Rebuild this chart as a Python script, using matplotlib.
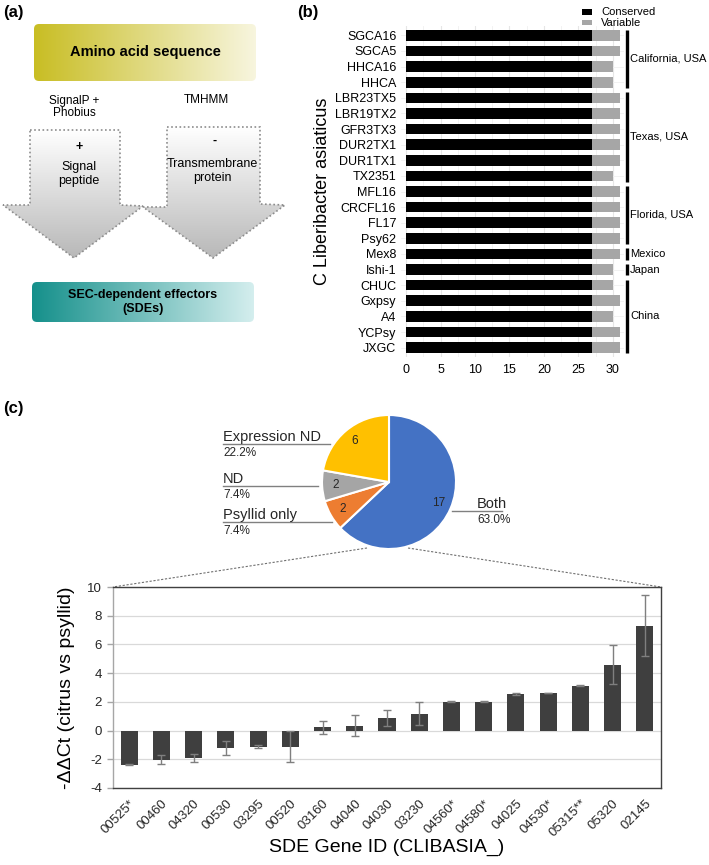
import numpy as np
import matplotlib
matplotlib.use("Agg")
import matplotlib.pyplot as plt
from matplotlib.patches import FancyBboxPatch, Polygon, Rectangle

plt.rcParams['font.family'] = ['Liberation Sans', 'DejaVu Sans']
plt.rcParams['axes.unicode_minus'] = False

W, H = 709, 865

# ---- panel (b) data ----
strains = ["SGCA16", "SGCA5", "HHCA16", "HHCA", "LBR23TX5", "LBR19TX2", "GFR3TX3",
           "DUR2TX1", "DUR1TX1", "TX2351", "MFL16", "CRCFL16", "FL17", "Psy62",
           "Mex8", "Ishi-1", "CHUC", "Gxpsy", "A4", "YCPsy", "JXGC"]
conserved = [27, 27, 27, 27, 27, 27, 27, 27, 27, 27, 27, 27, 27, 27, 27, 27, 27, 27, 27, 27, 27]
variable = [4, 4, 3, 3, 4, 4, 4, 4, 4, 3, 4, 4, 4, 4, 4, 3, 3, 4, 3, 4, 4]
regions = ["California, USA", "Texas, USA", "Florida, USA", "Mexico", "Japan", "China"]
region_first = [0, 4, 10, 14, 15, 16]
region_last = [3, 9, 13, 14, 15, 20]

# ---- panel (c) pie data ----
pie_labels = ["Both", "Psyllid only", "ND", "Expression ND"]
pie_counts = [17, 2, 2, 6]
pie_colors = ["#4472c4", "#ed7d31", "#a5a5a5", "#ffc000"]

# ---- panel (c) bar data ----
genes = ["00525*", "00460", "04320", "00530", "03295", "00520", "03160", "04040",
         "04030", "03230", "04560*", "04580*", "04025", "04530*", "05315**", "05320", "02145"]
ddct = [-2.37, -2.02, -1.90, -1.23, -1.11, -1.11, 0.23, 0.35, 0.86, 1.18,
        2.00, 2.02, 2.55, 2.62, 3.13, 4.59, 7.31]
ddct_err = [0.05, 0.30, 0.28, 0.50, 0.08, 1.07, 0.47, 0.75, 0.54, 0.82,
            0.03, 0.03, 0.05, 0.03, 0.02, 1.37, 2.13]

fig = plt.figure(figsize=(W / 100, H / 100), dpi=100)


def box(l, t, r, b):
    return fig.add_axes([l / W, 1 - b / H, (r - l) / W, (b - t) / H])


# overlay in pixel coordinates for the schematic and annotations
ov = box(0, 0, W, H)
ov.set_xlim(0, W)
ov.set_ylim(H, 0)
ov.axis('off')


def grad_box(l, t, r, b, c0, c1, horiz=True, clip=None):
    c0 = np.array(matplotlib.colors.to_rgb(c0))
    c1 = np.array(matplotlib.colors.to_rgb(c1))
    s = np.linspace(0, 1, 256)
    if horiz:
        img = (c0[None, None, :] * (1 - s)[None, :, None] + c1[None, None, :] * s[None, :, None])
    else:
        img = (c0[None, None, :] * (1 - s)[:, None, None] + c1[None, None, :] * s[:, None, None])
    im = ov.imshow(img, extent=(l, r, b, t), origin='upper', aspect='auto', zorder=1)
    if clip is not None:
        im.set_clip_path(clip)
    return im


# ---- panel (a) ----
top = FancyBboxPatch((34, 24), 222, 57, boxstyle="round,pad=0,rounding_size=5",
                     facecolor='none', edgecolor='none', transform=ov.transData)
ov.add_patch(top)
grad_box(32, 22, 258, 83, "#c8bd22", "#f8f6e0", clip=top)
ov.text(145, 52, "Amino acid sequence", ha='center', va='center', fontsize=10.5, fontweight='bold')

bot = FancyBboxPatch((32, 282), 222, 40, boxstyle="round,pad=0,rounding_size=5",
                     facecolor='none', edgecolor='none', transform=ov.transData)
ov.add_patch(bot)
grad_box(30, 280, 256, 324, "#138f8a", "#d6efef", clip=bot)
ov.text(143, 302, "SEC-dependent effectors\n(SDEs)", ha='center', va='center', fontsize=9,
        fontweight='bold', linespacing=1.15)

left_arrow = [(30, 130), (120, 130), (120, 205), (143, 206), (74, 258), (3, 205), (30, 205)]
right_arrow = [(167, 127), (260, 127), (260, 204), (285, 205), (213, 258), (143, 207), (167, 207)]
for pts in (left_arrow, right_arrow):
    poly = Polygon(pts, closed=True, facecolor='none', edgecolor='#8c8c8c', linestyle=(0, (1, 1.5)),
                   linewidth=1.2, transform=ov.transData, zorder=3)
    ov.add_patch(poly)
    ys = [p[1] for p in pts]
    xs = [p[0] for p in pts]
    grad_box(min(xs), min(ys), max(xs), max(ys), "#ffffff", "#b8b8b8", horiz=False, clip=poly)

ov.text(74, 107, "SignalP +\nPhobius", ha='center', va='center', fontsize=8.5, linespacing=1.1)
ov.text(206, 100, "TMHMM", ha='center', va='center', fontsize=8.5)
ov.text(79, 147, "+", ha='center', va='center', fontsize=9, fontweight='bold')
ov.text(79, 174, "Signal\npeptide", ha='center', va='center', fontsize=9, linespacing=1.15)
ov.text(215, 141, "-", ha='center', va='center', fontsize=9, fontweight='bold')
ov.text(212, 171, "Transmembrane\nprotein", ha='center', va='center', fontsize=9, linespacing=1.15)

ov.text(3, 12, "(a)", ha='left', va='center', fontsize=12, fontweight='bold')
ov.text(297, 12, "(b)", ha='left', va='center', fontsize=12, fontweight='bold')
ov.text(3, 408, "(c)", ha='left', va='center', fontsize=12, fontweight='bold')

# ---- panel (b) ----
axb = box(400.5, 26, 624, 357)
y = np.arange(len(strains))
axb.barh(y, conserved, height=0.68, color='black', zorder=2)
axb.barh(y, variable, left=conserved, height=0.68, color='#a6a6a6', zorder=2)
axb.set_ylim(len(strains) - 0.4, -0.6)
axb.set_xlim(-0.8, 31.6)
axb.set_yticks(y)
axb.set_yticklabels(strains, fontsize=9)
axb.set_xticks(np.arange(0, 31, 5))
axb.set_xticks(np.arange(2.5, 31, 5), minor=True)
axb.tick_params(axis='x', labelsize=9, length=0, pad=5, which='both')
axb.tick_params(axis='y', length=0, pad=3)
axb.grid(True, axis='x', which='major', color='#e6e6e6', linewidth=0.8, zorder=0)
axb.grid(True, axis='x', which='minor', color='#f0f0f0', linewidth=0.6, zorder=0)
axb.grid(True, axis='y', color='#f0f0f0', linewidth=0.6, zorder=0)
for s in axb.spines.values():
    s.set_visible(False)
axb.set_ylabel("C Liberibacter asiaticus", fontsize=13)
axb.yaxis.set_label_coords(-0.31, 0.5)
for name, a, b in zip(regions, region_first, region_last):
    axb.plot([32.0, 32.0], [a - 0.36, b + 0.36], color='black', linewidth=2.4,
             solid_capstyle='butt', clip_on=False)
    axb.text(32.5, (a + b) / 2, name, ha='left', va='center', fontsize=8, clip_on=False)

ov.add_patch(Rectangle((582, 9), 10, 5.5, facecolor='black', edgecolor='none'))
ov.add_patch(Rectangle((582, 19.5), 10, 5.5, facecolor='#a6a6a6', edgecolor='none'))
ov.text(601, 12, "Conserved", ha='left', va='center', fontsize=8)
ov.text(601, 23, "Variable", ha='left', va='center', fontsize=8)

# ---- panel (c) pie ----
axp = box(322, 415, 456, 549)
total = sum(pie_counts)
wedges, _, autotexts = axp.pie(pie_counts, colors=pie_colors, startangle=90, counterclock=False,
                               wedgeprops=dict(edgecolor='white', linewidth=1.5),
                               autopct=lambda p: f"{round(p * total / 100)}", pctdistance=0.8,
                               textprops=dict(fontsize=8.5, color='#262626'))
axp.set_xlim(-1, 1)
axp.set_ylim(-1, 1)

pct = [f"{c / total * 100:.1f}%" for c in pie_counts]
lab_pos = {"Expression ND": (223, 437, 330, 444), "ND": (223, 479, 318, 486),
           "Psyllid only": (223, 515, 332, 522), "Both": (477, 504, 452, 511)}
for name, p in zip(pie_labels, pct):
    tx, ty, lx, ly = lab_pos[name]
    ov.text(tx, ty, name, ha='left', va='center', fontsize=10.5, color='#262626')
    ov.text(tx, ty + 16, p, ha='left', va='center', fontsize=8.5, color='#262626')
    if name == "Both":
        ov.plot([lx, 502], [ly, ly], color='#808080', linewidth=1)
    else:
        ov.plot([tx, lx], [ly, ly], color='#808080', linewidth=1)

ov.plot([367, 113], [548, 587], color='#707070', linewidth=0.8, linestyle=(0, (2, 1.5)))
ov.plot([408, 661], [548, 587], color='#707070', linewidth=0.8, linestyle=(0, (2, 1.5)))

# ---- panel (c) bar ----
axc = box(113, 587, 661, 788)
x = np.arange(len(genes))
axc.bar(x, ddct, width=0.53, color='#3f3f3f', zorder=2)
axc.errorbar(x, ddct, yerr=ddct_err, fmt='none', ecolor='#7f7f7f', elinewidth=1,
             capsize=3, capthick=1, zorder=3)
axc.set_xlim(-0.5, len(genes) - 0.5)
axc.set_ylim(-4, 10)
axc.set_yticks(np.arange(-4, 11, 2))
axc.set_xticks(x)
axc.set_xticklabels(genes, rotation=45, ha='right', rotation_mode='anchor')
axc.tick_params(axis='y', length=4, width=1, color='#a6a6a6', labelsize=9.5,
                labelcolor='#262626', pad=4)
axc.tick_params(axis='x', length=0, pad=7, labelsize=9.5, labelcolor='#262626')
axc.grid(True, axis='y', color='#d9d9d9', linewidth=0.9, zorder=0)
for s in axc.spines.values():
    s.set_color('#404040')
    s.set_linewidth(1)
axc.spines['left'].set_color('#a6a6a6')
axc.set_ylabel("-ΔΔCt (citrus vs psyllid)", fontsize=14)
axc.yaxis.set_label_coords(-0.07, 0.5)
axc.set_xlabel("SDE Gene ID (CLIBASIA_)", fontsize=14)
axc.xaxis.set_label_coords(0.5, -0.255)

fig.savefig("out.png", dpi=100)
